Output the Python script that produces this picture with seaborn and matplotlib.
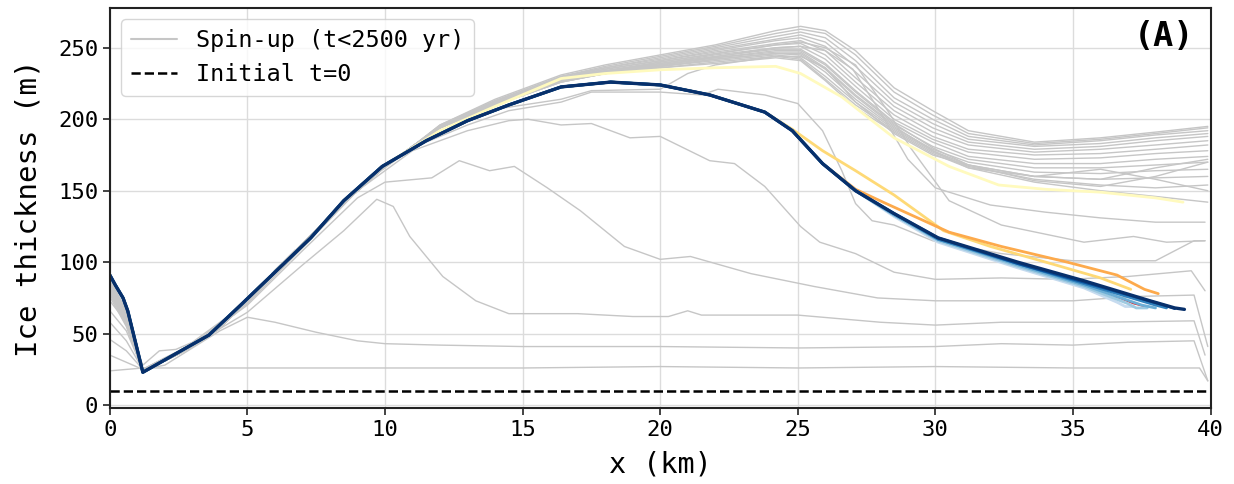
"""
Glacier ice thickness profiles: spin-up runs in grey, later runs coloured.
"""
import pandas as pd
import matplotlib
matplotlib.use('Agg')
import matplotlib.pyplot as plt
from matplotlib.lines import Line2D
import seaborn as sns

# ---- data (x in km, thickness in m) ----

# early spin-up profiles, below the main curve
L1_X = [0, 1.2, 5, 10, 15, 20, 25, 30, 35, 39.6, 39.9]
L1_Y = [24, 26, 26, 26, 26, 27, 26, 27, 26, 26, 17]
L2_X = [0, 0.6, 1.2, 2, 3, 4, 5, 6, 7.5, 9, 10, 12, 15, 20, 25, 30, 32.4, 35, 37, 39.4, 39.9]
L2_Y = [35, 30, 25, 28, 40, 52, 61.5, 58, 51, 45, 43, 42, 41, 41, 40, 41, 43, 42, 44, 45, 17]
L3_X = [0, 0.6, 1.2, 2, 3, 5, 7, 8.5, 9.7, 10.3, 10.9, 12.1, 13.3, 14.5, 17, 19, 20.3, 21, 21.5,
        25, 28, 30, 32.4, 36, 39.4, 39.8]
L3_Y = [46, 38, 25, 33, 42, 65, 98, 122, 144, 139, 118, 90, 73, 64, 64, 62, 62, 66, 63,
        63, 58, 56, 58, 58, 59, 35]
L4_X = [0, 0.6, 1.2, 2, 3, 5, 7, 9, 10, 11.7, 12.7, 13.8, 14.7, 15.9, 17.1, 18.7, 20, 21.1,
        23.3, 25.6, 27.9, 30, 32.4, 35, 37.2, 39.4, 39.9]
L4_Y = [58, 45, 25, 33, 42, 70, 108, 145, 156, 159, 171, 164, 167, 152, 136, 111, 102, 104,
        92, 83, 75, 73, 73, 73, 76, 77, 41]
L5_X = [0, 0.6, 1.2, 2, 3, 5, 7, 9, 11, 13, 14.5, 15.2, 16.4, 17.5, 18.9, 20, 21.8, 22.7, 23.8,
        25.1, 25.8, 27.1, 28.5, 30, 32.4, 34.8, 37, 39.3, 39.8]
L5_Y = [66, 52, 25, 33, 43, 71, 110, 150, 178, 192, 199, 200, 196, 197, 187, 188, 171, 169, 153,
        125, 114, 106, 93, 88, 89, 88, 90, 94, 80]
L6_X = [0, 0.6, 1.2, 1.8, 2.4, 3, 5, 7, 9, 11, 13, 14.5, 16.4, 17.5, 20, 21.5, 22.1, 23.8, 25,
        25.9, 26.6, 27.1, 27.7, 28.5, 29.9, 32.4, 35, 38, 39.4, 39.8]
L6_Y = [73, 58, 28, 38, 39, 44, 72, 112, 152, 180, 196, 206, 212, 219, 219, 217, 221, 217, 211,
        192, 164, 141, 129, 126, 115, 106, 101, 101, 115, 115]

# later spin-up profiles: common start, then the upper bundle
BASE_X = [1.2, 2, 3, 4, 5, 6, 7, 8, 9, 10, 11]
BASE_Y = [24, 31, 41, 54, 73, 94, 113, 132, 150, 167, 181]
BUNDLE_X = [12, 14, 16.4, 18, 20, 22, 24.2, 25.1, 26, 27.1, 28.5, 29.9, 31.2, 33.6, 36, 38, 39.9]
B_HEAD = [[88, 66], [86, 65], [85, 63], [84, 62], [82, 60], [80, 58], [78, 56], [88, 66],
          [86, 64], [84, 62], [83, 61], [80, 58], [78, 57], [76, 55], [82, 60], [80, 59]]
B_LINES = [
    [196, 214, 231, 238, 245, 252, 262, 265, 262, 248, 222, 206, 192, 184, 187, 191, 195],
    [196, 213, 230, 237, 244, 251, 260, 263, 260, 245, 219, 203, 190, 183, 186, 190, 194],
    [195, 213, 230, 236, 243, 250, 258, 261, 257, 241, 215, 200, 188, 182, 185, 189, 192],
    [195, 212, 229, 236, 242, 249, 256, 259, 254, 237, 212, 197, 186, 181, 183, 187, 190],
    [195, 212, 229, 235, 241, 248, 255, 257, 251, 233, 209, 194, 184, 179, 181, 185, 188],
    [195, 212, 228, 235, 241, 247, 253, 255, 248, 229, 206, 191, 182, 177, 179, 182, 185],
    [194, 211, 228, 234, 240, 246, 252, 253, 245, 226, 203, 188, 179, 175, 176, 179, 182],
    [194, 211, 228, 234, 239, 245, 250, 251, 242, 223, 200, 186, 177, 172, 173, 176, 178],
    [194, 211, 227, 233, 239, 244, 249, 249, 239, 220, 198, 184, 174, 169, 169, 172, 174],
    [194, 211, 227, 233, 238, 243, 247, 247, 236, 217, 196, 181, 172, 166, 166, 168, 170],
    [194, 210, 227, 232, 237, 242, 246, 245, 233, 214, 194, 179, 170, 163, 162, 164, 165],
    [194, 210, 226, 232, 237, 241, 245, 243, 230, 212, 193, 178, 168, 160, 158, 159, 160],
    [194, 210, 226, 232, 236, 240, 244, 242, 228, 210, 192, 177, 167, 158, 154, 152, 154],
    [194, 210, 226, 232, 236, 239, 243, 241, 227, 208, 191, 176, 166, 156, 150, 146, 142],
    [194, 211, 227, 233, 238, 243, 248, 248, 238, 219, 197, 180, 168, 157, 153, 160, 170],
    [194, 210, 227, 232, 237, 242, 246, 246, 235, 216, 195, 178, 166, 160, 165, 158, 150],
]
# bundle runs that break away and thin out
F1_X = [12, 14, 16.4, 20, 24.2, 25.1, 26, 27.1, 28.3, 29.1, 30.5, 32.4, 35.4, 37.2, 38.4, 39.8]
F1_Y = [195, 212, 228, 240, 252, 254, 250, 238, 205, 180, 143, 126, 114, 118, 114, 115]
M_X = [12, 14, 16.4, 20, 24.2, 25.1, 26, 27, 28, 29, 30, 32, 34, 36, 38, 39.8]
M_Y = [195, 211, 227, 238, 250, 251, 248, 235, 205, 172, 152, 140, 135, 131, 128, 128]
A_X = [12, 14, 16.4, 17.5, 20, 21, 22, 24.2, 25.1, 26, 27.1, 28.5, 29.9, 31.2, 33.6, 36, 38, 39.9]
A_Y = [192, 207, 214, 220, 221, 232, 238, 244, 244, 236, 212, 190, 175, 168, 160, 158, 166, 172]

# final (navy) profile
MAIN_X = [0, 0.2, 0.48, 0.65, 1.2, 2.4, 3.6, 4.7, 6, 7.3, 8.5, 9.9, 11.5, 13, 14.5, 16.4, 18.2,
          20, 21.8, 23.8, 24.8, 25.9, 27.1, 28.5, 30.1, 33, 35.4, 37.8, 38.7, 39.05]
MAIN_Y = [91, 84, 75, 66, 23, 36, 49, 69, 93, 117, 143, 167, 185, 199, 210, 222.6, 226,
          224, 217, 205, 192, 169, 150, 134, 117, 100, 87, 73, 68, 67]

# coloured runs: follow MAIN_X below the branch point, then their own tail
RUN_COLORS = ['#fffabe', '#fed976', '#fdaa4c', '#e31a1c', '#c6dbef', '#9ecae1',
              '#6baed6', '#3182bd', '#08519c']
RUN_BRANCH = [11.5, 24.8, 27.1, 28.5, 28.5, 28.5, 28.5, 28.5, 28.5]
RUN_TAIL_X = [
    [12, 14, 16.4, 18, 20, 22, 24.2, 25.1, 26.6, 28.5, 30.5, 32.3, 34, 36, 38, 39],
    [24.8, 25.9, 27.1, 28.5, 30.3, 32, 34.2, 36, 37.1],
    [27.1, 28.1, 30.5, 32.4, 34.8, 36.6, 37.6, 38.1],
    [28.5, 30.1, 33, 35.4, 37.2, 37.6],
    [28.5, 30.1, 33, 35.4, 36.6, 36.9, 37.2],
    [28.5, 30.1, 33, 35.4, 37, 37.3, 37.7],
    [28.5, 30.1, 33, 35.4, 37.5, 38.0],
    [28.5, 30.1, 33, 35.4, 38, 38.4],
    [28.5, 30.1, 33, 35.4, 38.3, 38.7],
]
RUN_TAIL_Y = [
    [192, 209, 228.5, 232, 234.6, 236, 237, 232, 215.6, 187, 167, 154, 151, 149, 145, 142],
    [193, 178, 164, 147, 122, 111, 99, 89, 81],
    [151, 142, 121, 111, 100, 91, 81, 78],
    [134, 116, 98, 85, 71, 69],
    [132, 114, 96, 82, 72, 69, 69],
    [133, 115, 97, 83, 71, 68, 68],
    [133, 116, 98, 84, 70, 68],
    [134, 116, 99, 85, 70, 68],
    [134, 117, 99, 86, 70, 67.5],
]

# ---- build tables ----
grey = []
for i, (xs, ys) in enumerate([(L1_X, L1_Y), (L2_X, L2_Y), (L3_X, L3_Y), (L4_X, L4_Y),
                              (L5_X, L5_Y), (L6_X, L6_Y)]):
    grey.append(pd.DataFrame({'x': xs, 'y': ys, 'run': f'L{i}'}))
for i, (head, tail) in enumerate(zip(B_HEAD, B_LINES)):
    xs = [0, 0.6] + BASE_X + BUNDLE_X
    ys = head + BASE_Y + tail
    grey.append(pd.DataFrame({'x': xs, 'y': ys, 'run': f'B{i}'}))
for name, xs, ys in [('F1', F1_X, F1_Y), ('M', M_X, M_Y), ('A', A_X, A_Y)]:
    grey.append(pd.DataFrame({'x': [0, 0.6] + BASE_X + xs, 'y': [80, 58] + BASE_Y + ys,
                              'run': name}))
grey_df = pd.concat(grey, ignore_index=True)

runs = []
for i in range(len(RUN_COLORS)):
    head = [(x, y) for x, y in zip(MAIN_X, MAIN_Y) if x < RUN_BRANCH[i]]
    xs = [p[0] for p in head] + RUN_TAIL_X[i]
    ys = [p[1] for p in head] + RUN_TAIL_Y[i]
    runs.append(pd.DataFrame({'x': xs, 'y': ys, 'run': f'C{i}'}))
runs.append(pd.DataFrame({'x': MAIN_X, 'y': MAIN_Y, 'run': 'final'}))

# ---- plot ----
sns.set_theme(style='ticks')
plt.rcParams['font.family'] = ['DejaVu Sans Mono']
plt.rcParams['text.color'] = 'black'
plt.rcParams['axes.labelcolor'] = 'black'

fig, ax = plt.subplots(figsize=(12.34, 4.84), dpi=100)
fig.subplots_adjust(left=0.089, right=0.981, top=0.984, bottom=0.157)

sns.lineplot(data=grey_df, x='x', y='y', units='run', estimator=None, sort=False,
             color='#c6c6c6', lw=1, ax=ax, legend=False)

colors = RUN_COLORS + ['#08306b']
widths = [2, 2, 2, 1, 2, 2, 2, 2, 2, 2.4]
for df, c, w in zip(runs, colors, widths):
    sns.lineplot(data=df, x='x', y='y', sort=False, color=c, lw=w, ax=ax, legend=False)

ax.axhline(10, color='black', ls='--', lw=1.8)

ax.set_xlim(0, 40)
ax.set_ylim(-2, 278)
ax.set_xticks(range(0, 41, 5))
ax.set_yticks(range(0, 251, 50))
ax.grid(True, color='#dcdcdc', lw=1)
ax.tick_params(labelsize=16, length=5, width=1.2, color='#222222', labelcolor='black')
for s in ax.spines.values():
    s.set_color('#222222')
    s.set_linewidth(1.5)

ax.set_xlabel('x (km)', fontsize=20.5, labelpad=8)
ax.set_ylabel('Ice thickness (m)', fontsize=21, labelpad=11)

handles = [Line2D([], [], color='#c6c6c6', lw=1.5),
           Line2D([], [], color='black', ls='--', lw=1.8)]
ax.legend(handles, ['Spin-up (t<2500 yr)', 'Initial t=0'], loc='upper left',
          fontsize=16.8, frameon=True, framealpha=0.8, edgecolor='#cccccc', fancybox=True)

ax.text(0.985, 0.97, '(A)', transform=ax.transAxes, ha='right', va='top',
        fontsize=24, fontweight='bold')

fig.savefig('out.png', dpi=100)
